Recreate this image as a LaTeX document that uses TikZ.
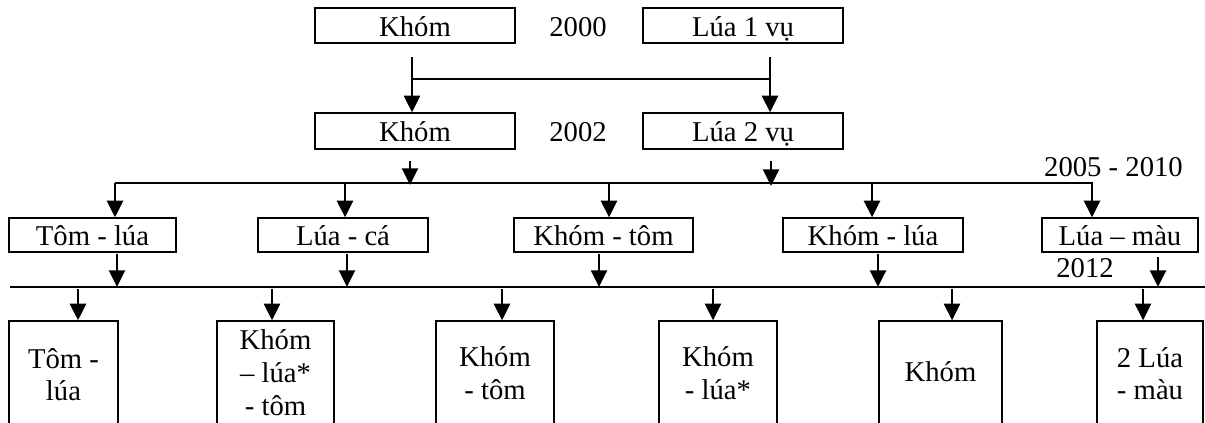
\documentclass[tikz,border=0pt]{standalone}
\usepackage{fontspec}
\setmainfont{Liberation Serif}
\usetikzlibrary{arrows.meta}
\begin{document}
\begin{tikzpicture}[x=0.75pt,y=-0.75pt,
  txt/.style={font=\fontsize{21.5}{24.5}\selectfont},
  box/.style={draw,line width=1pt,inner sep=0pt,txt},
  row1/.style={box,minimum height=26.25pt,text depth=4.9pt,text height=21.35pt},
  row2/.style={box,minimum height=27pt,text depth=5.4pt,text height=21.6pt},
  row3/.style={box,minimum height=25.5pt,text depth=4.6pt,text height=20.9pt},
  bbox/.style={box,minimum height=89.25pt},
  lbl/.style={inner sep=0pt,anchor=base,txt},
  btxt/.style={inner sep=0pt,anchor=base,align=center,txt},
  arr/.style={line width=1.8pt,-{Triangle[width=12pt,length=12.5pt]}},
  ln/.style={line width=1pt}]
\useasboundingbox (0,0) rectangle (1205,423);
\clip (0,0) rectangle (1205,423);
% top rows
\node[row1,minimum width=150pt] (k1) at (415,25.5) {Khóm};
\node[row1,minimum width=150pt] (l1) at (743,25.5) {Lúa 1 vụ};
\node[lbl] (y2000) at (578,36.7) {2000};
\node[row2,minimum width=150pt] (k2) at (415,131) {Khóm};
\node[row2,minimum width=150pt] (l2) at (743,131) {Lúa 2 vụ};
\node[lbl] (y2002) at (578,141.5) {2002};
% row 3
\node[row3,minimum width=125.25pt] (t1) at (92.5,235) {Tôm - lúa};
\node[row3,minimum width=127.5pt] (t2) at (343,235) {Lúa - cá};
\node[row3,minimum width=134.25pt] (t3) at (603.5,235) {Khóm - tôm};
\node[row3,minimum width=135pt] (t4) at (873,235) {Khóm - lúa};
\node[row3,minimum width=117pt] (t5) at (1120,235) {Lúa – màu};
\node[lbl] (y2005) at (1113.5,177) {2005 - 2010};
\node[lbl] (y2012) at (1085,278) {2012};
% bottom boxes
\node[bbox,minimum width=81.75pt] (b1) at (63.5,380.5) {};
\node[bbox,minimum width=87.75pt] (b2) at (275.5,380.5) {};
\node[bbox,minimum width=88.5pt] (b3) at (495,380.5) {};
\node[bbox,minimum width=88.5pt] (b4) at (718,380.5) {};
\node[bbox,minimum width=92.25pt] (b5) at (940.5,380.5) {};
\node[bbox,minimum width=79.5pt] (b6) at (1150,380.5) {};
\node[btxt] (bt1) at (63.5,401) {Tôm -\\lúa};
\node[btxt] (bt2) at (275.5,415) {Khóm\\– lúa*\\- tôm};
\node[btxt] (bt3) at (495,399.5) {Khóm\\- tôm};
\node[btxt] (bt4) at (718,399.5) {Khóm\\- lúa*};
\node[btxt] (bt5) at (940.5,382) {Khóm};
\node[btxt] (bt6) at (1150,400) {2 Lúa\\- màu};
% row1 -> row2
\coordinate (j1) at (412,79);
\coordinate (j2) at (770,79);
\draw[arr] ([xshift=-2.25pt,yshift=-9.75pt]k1.south) -- ([xshift=-2.25pt]k2.north);
\draw[arr] ([xshift=20.25pt,yshift=-9.75pt]l1.south) -- ([xshift=20.25pt]l2.north);
\draw[ln] (j1) -- (j2);
% row2 -> line 1
\coordinate (L1w) at (115,183);
\coordinate (L1e) at (1093,183);
\coordinate (m1) at (410,185);
\coordinate (m2) at (771,186);
\draw[arr,shorten <=8.25pt] (m1 |- k2.south) -- (m1);
\draw[arr,shorten <=8.25pt] (m2 |- l2.south) -- (m2);
\draw[ln] (L1w) -- (L1e);
% line 1 -> row 3
\coordinate (d1) at (115,183);
\coordinate (d2) at (345,183);
\coordinate (d3) at (609,183);
\coordinate (d4) at (872,183);
\coordinate (d5) at (1092,183);
\draw[arr] (d1) -- (d1 |- t1.north);
\draw[arr] (d2) -- (d2 |- t2.north);
\draw[arr] (d3) -- (d3 |- t3.north);
\draw[arr] (d4) -- (d4 |- t4.north);
\draw[arr] (d5) -- (d5 |- t5.north);
% row 3 -> line 2
\coordinate (L2w) at (10,287);
\coordinate (L2e) at (1205,287);
\coordinate (u1) at (117,287);
\coordinate (u2) at (347,287);
\coordinate (u3) at (599,287);
\coordinate (u4) at (878,287);
\coordinate (u5) at (1158,287);
\draw[arr,shorten <=1pt] (u1 |- t1.south) -- (u1);
\draw[arr,shorten <=1pt] (u2 |- t2.south) -- (u2);
\draw[arr,shorten <=1pt] (u3 |- t3.south) -- (u3);
\draw[arr,shorten <=1pt] (u4 |- t4.south) -- (u4);
\draw[arr,shorten <=3pt] (u5 |- t5.south) -- (u5);
\draw[ln] (L2w) -- (L2e);
% line 2 -> bottom
\coordinate (v1) at (78,289);
\coordinate (v2) at (272,289);
\coordinate (v3) at (502,289);
\coordinate (v4) at (713,289);
\coordinate (v5) at (952,289);
\coordinate (v6) at (1143,289);
\draw[arr] (v1) -- (v1 |- b1.north);
\draw[arr] (v2) -- (v2 |- b2.north);
\draw[arr] (v3) -- (v3 |- b3.north);
\draw[arr] (v4) -- (v4 |- b4.north);
\draw[arr] (v5) -- (v5 |- b5.north);
\draw[arr] (v6) -- (v6 |- b6.north);
\end{tikzpicture}
\end{document}
